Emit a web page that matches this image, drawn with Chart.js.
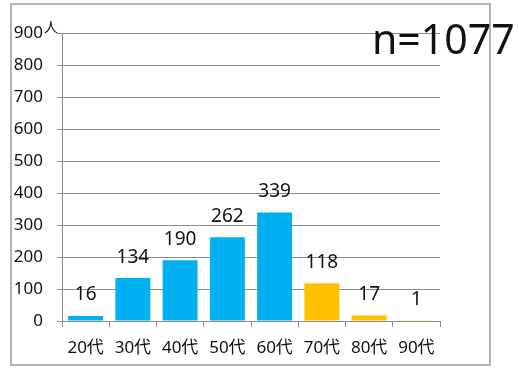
<!DOCTYPE html>
<html>
<head>
<meta charset="utf-8">
<script src="https://cdn.jsdelivr.net/npm/chart.js@4.4.0/dist/chart.umd.min.js"></script>
<style>
    html, body { margin: 0; padding: 0; background: #fff; }
    #wrap { position: relative; width: 519px; height: 368px; }
    #frame {
        position: absolute; left: 10px; top: 3px; width: 477px; height: 359px;
        border: 2px solid #b3b3b3;
    }
    #chart { position: absolute; left: 0; top: 0; }
</style>
</head>
<body>
<div id="wrap">
    <div id="frame"></div>
    <canvas id="chart" width="519" height="368"></canvas>
</div>
<script>
    const categories = ['20代', '30代', '40代', '50代', '60代', '70代', '80代', '90代'];
    const counts = [16, 134, 190, 262, 339, 118, 17, 1];
    const barColors = ['#00b0f0', '#00b0f0', '#00b0f0', '#00b0f0', '#00b0f0', '#ffc000', '#ffc000', '#ffc000'];
    const yTicks = [0, 100, 200, 300, 400, 500, 600, 700, 800, 900];
    const unitLabel = '人';
    const totalLabel = 'n=1077';

    const FONT = '"Noto Sans", "Noto Sans CJK JP", sans-serif';

    const extras = {
        id: 'extras',
        afterDatasetsDraw(chart) {
            const ctx = chart.ctx;
            const meta = chart.getDatasetMeta(0);
            ctx.save();
            ctx.fillStyle = '#111';
            ctx.font = '19px ' + FONT;
            ctx.textAlign = 'center';
            ctx.textBaseline = 'middle';
            meta.data.forEach(function (bar, i) {
                ctx.fillText(String(counts[i]), bar.x, bar.y - 21);
            });

            const y = chart.scales.y;
            ctx.font = '14px ' + FONT;
            ctx.textAlign = 'left';
            ctx.fillText(unitLabel, 44, y.getPixelForValue(900) - 5);

            ctx.font = '41px ' + FONT;
            ctx.textBaseline = 'alphabetic';
            ctx.fillText(totalLabel, 372, 54);
            ctx.restore();
        }
    };

    new Chart(document.getElementById('chart'), {
        type: 'bar',
        data: {
            labels: categories,
            datasets: [{
                data: counts,
                backgroundColor: barColors,
                borderWidth: 0,
                categoryPercentage: 1,
                barPercentage: 0.74
            }]
        },
        options: {
            responsive: false,
            animation: false,
            layout: { padding: { left: 0, right: 79, top: 33, bottom: 0 } },
            plugins: { legend: { display: false }, tooltip: { enabled: false } },
            scales: {
                x: {
                    afterFit: function (s) { s.height = 47; },
                    grid: {
                        drawOnChartArea: false,
                        drawTicks: true,
                        tickLength: 6,
                        color: '#8c8c8c'
                    },
                    border: { color: '#8c8c8c', width: 1 },
                    ticks: { color: '#111', font: { family: FONT, size: 17 }, padding: 11, maxRotation: 0, autoSkip: false }
                },
                y: {
                    min: 0,
                    max: 900,
                    afterFit: function (s) { s.width = 62; },
                    afterBuildTicks: function (s) { s.ticks = yTicks.map(function (v) { return { value: v }; }); },
                    grid: { color: '#8c8c8c', tickLength: 5 },
                    border: { color: '#8c8c8c', width: 1 },
                    ticks: { color: '#111', font: { family: FONT, size: 17 }, padding: 14 }
                }
            }
        },
        plugins: [extras]
    });
</script>
</body>
</html>
